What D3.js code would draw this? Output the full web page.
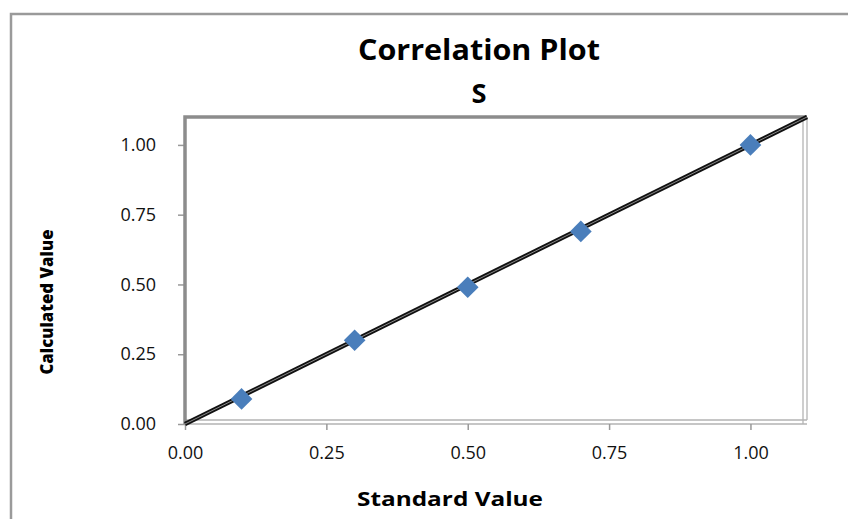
<!DOCTYPE html>
<html>
<head>
<meta charset="utf-8">
<script src="https://cdn.jsdelivr.net/npm/d3@7"></script>
<style>
  body { margin: 0; background: #fff; }
  text { font-family: "Open Sans", "Noto Sans", sans-serif; }
  .tick text { font-size: 18px; }
</style>
</head>
<body>
<div id="chart"></div>
<script>
const standardValues = [0.1, 0.3, 0.5, 0.7, 1.0];
const calculatedValues = [0.09, 0.3, 0.49, 0.69, 1.0];
const tickValues = [0, 0.25, 0.5, 0.75, 1.0];
const fitLine = [[0, 0], [1.1, 1.1]];

const W = 848, H = 519;
const margin = { top: 117, right: 41, bottom: 95, left: 185 };
const width = W - margin.left - margin.right;
const height = H - margin.top - margin.bottom;

const svg = d3.select("#chart").append("svg")
  .attr("width", W).attr("height", H);

// cadre extérieur
svg.append("path")
  .attr("d", `M11,${H} L11,14 L${W},14`)
  .attr("fill", "none").attr("stroke", "#9a9a9a").attr("stroke-width", 2.5);

// titres
svg.append("text").attr("x", 479).attr("y", 60).attr("text-anchor", "middle")
  .style("font-size", "29px").style("font-weight", "bold")
  .attr("textLength", 242).attr("lengthAdjust", "spacingAndGlyphs")
  .text("Correlation Plot");
svg.append("text").attr("x", 479).attr("y", 103).attr("text-anchor", "middle")
  .style("font-size", "27px").style("font-weight", "bold")
  .attr("textLength", 15).attr("lengthAdjust", "spacingAndGlyphs")
  .text("S");

const g = svg.append("g").attr("transform", `translate(${margin.left},${margin.top})`);

const x = d3.scaleLinear().domain([0, 1.1]).range([0, width]);
const y = d3.scaleLinear().domain([0, 1.1]).range([height, 0]);

// bordure droite et bas (double trait clair)
[0, 4].forEach(o => {
  g.append("path")
    .attr("d", `M${width - o},0 L${width - o},${height + o - 4} M0,${height + o - 4} L${width},${height + o - 4}`)
    .attr("fill", "none").attr("stroke", "#b4b4b4").attr("stroke-width", 1.3);
});

// axes
const yAxis = g.append("g")
  .call(d3.axisLeft(y).tickValues(tickValues).tickFormat(d3.format(".2f")).tickSize(7).tickPadding(22));
const xAxis = g.append("g").attr("transform", `translate(0,${height})`)
  .call(d3.axisBottom(x).tickValues(tickValues).tickFormat(d3.format(".2f")).tickSize(6).tickPadding(16));
[xAxis, yAxis].forEach(a => {
  a.attr("font-size", null).attr("font-family", null);
  a.select(".domain").remove();
  a.selectAll(".tick line").attr("stroke", "#999").attr("stroke-width", 1.5);
  a.selectAll(".tick text").attr("fill", "#111");
});

// bordure gauche et haut
g.append("path")
  .attr("d", `M0,${height} L0,0 L${width},0`)
  .attr("fill", "none").attr("stroke", "#8c8c8c").attr("stroke-width", 3.5);

// droite de corrélation
const line = d3.line().x(d => x(d[0])).y(d => y(d[1]));
g.append("path").datum(fitLine).attr("d", line)
  .attr("stroke", "#111").attr("stroke-width", 4.5).attr("fill", "none");
g.append("path").datum(fitLine).attr("d", line)
  .attr("stroke", "#8a8a8a").attr("stroke-width", 1).attr("fill", "none");

// points
g.selectAll(".pt").data(standardValues).enter().append("path")
  .attr("class", "pt")
  .attr("transform", (d, i) => `translate(${x(d)},${y(calculatedValues[i])})`)
  .attr("d", d3.symbol().type(d3.symbolDiamond2).size(300))
  .attr("fill", "#4a7ebb");

// titres des axes
svg.append("text").attr("x", 450).attr("y", 506).attr("text-anchor", "middle")
  .style("font-size", "20px").style("font-weight", "bold")
  .attr("textLength", 186).attr("lengthAdjust", "spacingAndGlyphs")
  .text("Standard Value");
svg.append("text")
  .attr("transform", "translate(53,302) rotate(-90)")
  .attr("text-anchor", "middle")
  .style("font-size", "17px").style("font-weight", "900")
  .attr("textLength", 145).attr("lengthAdjust", "spacingAndGlyphs")
  .text("Calculated Value");
</script>
</body>
</html>
